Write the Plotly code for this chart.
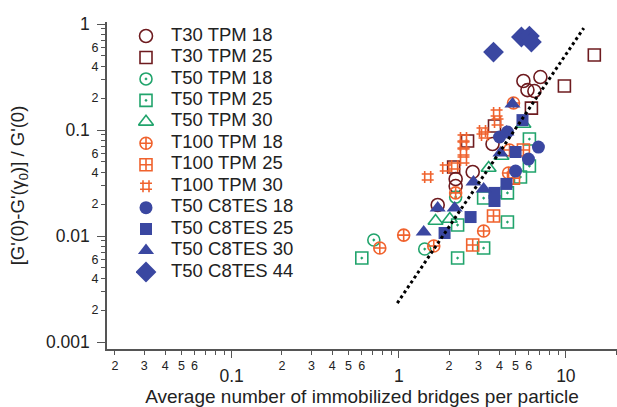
import plotly.graph_objects as go

# ---- data: (bridges per particle, relative modulus drop) ----
t30_tpm18_x = [5.57, 7.04, 5.89, 6.48, 3.64, 2.77, 2.19, 2.19, 1.71]
t30_tpm18_y = [0.29, 0.316, 0.238, 0.233, 0.0738, 0.0402, 0.0345, 0.0296, 0.0196]

t30_tpm25_x = [14.8, 9.8, 6.22, 3.74, 2.58, 2.13]
t30_tpm25_y = [0.51, 0.26, 0.161, 0.109, 0.0787, 0.0448]

t50_tpm18_x = [0.709, 1.43, 2.19]
t50_tpm18_y = [0.00917, 0.00754, 0.0233]

t50_tpm25_x = [0.601, 2.25, 3.22, 4.47, 2.25, 3.22, 4.47, 5.35, 6.05, 6.05]
t50_tpm25_y = [0.0062, 0.0062, 0.0077, 0.01355, 0.0127, 0.0228, 0.0255, 0.036, 0.0457, 0.0822]

t50_tpm30_x = [1.66, 2.02, 3.45, 4.12, 5.57]
t50_tpm30_y = [0.01386, 0.01445, 0.0438, 0.0569, 0.114]

t100_tpm18_x = [1.07, 0.77, 1.62, 3.22, 2.19, 4.54, 4.60, 4.86]
t100_tpm18_y = [0.0102, 0.0077, 0.00805, 0.01115, 0.0255, 0.0393, 0.0648, 0.18]

t100_tpm25_x = [3.69, 2.77, 5.57, 4.86]
t100_tpm25_y = [0.01545, 0.00822, 0.0648, 0.0352]

t100_tpm30_x = [1.49, 1.91, 2.16, 2.44, 2.44, 2.44, 2.44, 3.17, 3.26, 3.85, 3.90]
t100_tpm30_y = [0.036, 0.0438, 0.0457, 0.0521, 0.062, 0.0721, 0.0841, 0.098, 0.0897, 0.1446, 0.119]

t50_c8_18_x = [4.01, 4.47, 6.85, 5.97, 5.0]
t50_c8_18_y = [0.0859, 0.0958, 0.0691, 0.0532, 0.041]

t50_c8_25_x = [5.5, 5.0, 4.41, 3.74, 3.74, 2.69, 1.88]
t50_c8_25_y = [0.124, 0.062, 0.031, 0.0255, 0.0214, 0.0151, 0.01067]

t50_c8_30_x = [4.79, 4.41, 4.06, 2.80, 3.22, 1.71, 2.16, 1.41]
t50_c8_30_y = [0.176, 0.0958, 0.0607, 0.0323, 0.0277, 0.0184, 0.0184, 0.0109]

t50_c8_44_x = [3.69, 5.42, 6.05, 6.22]
t50_c8_44_y = [0.544, 0.754, 0.77, 0.676]

# guide line (power law) end points
guide_x = [0.98, 12.8]
guide_y = [0.00233, 0.916]

# axis ticks
x_decades = [0.1, 1, 10]
x_decade_text = ["0.1", "1", "10"]
x_minor = [m * d for d in (0.01, 0.1, 1, 10) for m in range(2, 10)]
x_minor_text = [str(m) if m <= 6 else " " for d in (0.01, 0.1, 1, 10) for m in range(2, 10)]
y_decades = [0.001, 0.01, 0.1, 1]
y_decade_text = ["0.001", "0.01", "0.1", "1"]
y_minor = [m * d for d in (0.001, 0.01, 0.1) for m in range(2, 10)]
y_minor_text = [str(m) if m in (2, 4, 6) else " " for d in (0.001, 0.01, 0.1) for m in range(2, 10)]

BROWN = "#6e1b1f"
GREEN = "#21a46c"
ORANGE = "#f0622d"
BLUE = "#3a47a1"
FONT = "Liberation Sans, Arial, sans-serif"

series = [
    ("T30 TPM 18", t30_tpm18_x, t30_tpm18_y, "circle-open", BROWN, 13),
    ("T30 TPM 25", t30_tpm25_x, t30_tpm25_y, "square-open", BROWN, 12),
    ("T50 TPM 18", t50_tpm18_x, t50_tpm18_y, "circle-open-dot", GREEN, 12),
    ("T50 TPM 25", t50_tpm25_x, t50_tpm25_y, "square-open-dot", GREEN, 12),
    ("T50 TPM 30", t50_tpm30_x, t50_tpm30_y, "triangle-up-open", GREEN, 13),
    ("T100 TPM 18", t100_tpm18_x, t100_tpm18_y, "circle-cross-open", ORANGE, 12),
    ("T100 TPM 25", t100_tpm25_x, t100_tpm25_y, "square-cross-open", ORANGE, 12),
    ("T100 TPM 30", t100_tpm30_x, t100_tpm30_y, "hash-open", ORANGE, 12),
    ("T50 C8TES 18", t50_c8_18_x, t50_c8_18_y, "circle", BLUE, 13),
    ("T50 C8TES 25", t50_c8_25_x, t50_c8_25_y, "square", BLUE, 12),
    ("T50 C8TES 30", t50_c8_30_x, t50_c8_30_y, "triangle-up", BLUE, 14),
    ("T50 C8TES 44", t50_c8_44_x, t50_c8_44_y, "diamond", BLUE, 16),
]
legend_names = [s[0] for s in series]


def marker_style(sym, col, size):
    filled = "open" not in sym
    return dict(symbol=sym, size=size, color=col,
                line=dict(color=col, width=0 if filled else 1.6))


fig = go.Figure()
for name, xs, ys, sym, col, size in series:
    fig.add_trace(go.Scatter(
        x=xs, y=ys, mode="markers", name=name, showlegend=False,
        marker=marker_style(sym, col, size),
    ))

fig.add_trace(go.Scatter(
    x=guide_x, y=guide_y, mode="lines", showlegend=False,
    line=dict(color="black", width=3, dash="dot"), hoverinfo="skip",
))

# carrier for the secondary (minor-label) axes
fig.add_trace(go.Scatter(x=[], y=[], xaxis="x2", yaxis="y2",
                         showlegend=False, hoverinfo="skip"))

# key: one row per series on a hidden categorical axis
for name, xs, ys, sym, col, size in series:
    fig.add_trace(go.Scatter(
        x=[0], y=[name], mode="markers", xaxis="x3", yaxis="y3",
        marker=marker_style(sym, col, size), showlegend=False, hoverinfo="skip",
    ))
fig.add_trace(go.Scatter(
    x=[1.25] * len(legend_names), y=legend_names, text=legend_names,
    mode="text", textposition="middle right", xaxis="x3", yaxis="y3",
    textfont=dict(size=18.5, family=FONT, color="#222222"),
    showlegend=False, hoverinfo="skip",
))

xr = [-1.746, 1.306]
yr = [-3.066, 0.019]
AX = "#555555"
hidden = dict(visible=False, showgrid=False, zeroline=False, fixedrange=True)

fig.update_layout(
    width=617, height=407,
    margin=dict(l=107, r=0, t=22, b=58),
    paper_bgcolor="white", plot_bgcolor="white",
    font=dict(family=FONT, color="#222222"),
    showlegend=False,
    xaxis=dict(type="log", range=xr, showgrid=False, zeroline=False,
               showline=True, linecolor=AX, linewidth=1.5,
               ticks="outside", ticklen=7, tickcolor=AX, tickwidth=1.3,
               tickvals=x_decades, ticktext=x_decade_text,
               tickfont=dict(size=17.5, color="#222222"), ticklabelstandoff=3,
               title=dict(text="Average number of immobilized bridges per particle",
                          font=dict(size=19, color="#222222"), standoff=6)),
    xaxis2=dict(type="log", range=xr, overlaying="x", anchor="y", side="bottom",
                showgrid=False, zeroline=False, showline=False,
                ticks="outside", ticklen=5, tickcolor=AX, tickwidth=1.2,
                tickvals=x_minor, ticktext=x_minor_text,
                tickfont=dict(size=12.5, color="#222222")),
    yaxis=dict(type="log", range=yr, showgrid=False, zeroline=False,
               showline=True, linecolor=AX, linewidth=1.5,
               ticks="outside", ticklen=8, tickcolor=AX, tickwidth=1.3,
               tickvals=y_decades, ticktext=y_decade_text,
               tickfont=dict(size=17.5, color="#222222"), ticklabelstandoff=4,
               title=dict(text="[G'(0)-G'(γ<sub>0</sub>)] / G'(0)",
                          font=dict(size=18.5, color="#222222"), standoff=16)),
    yaxis2=dict(type="log", range=yr, overlaying="y", anchor="x", side="left",
                showgrid=False, zeroline=False, showline=False,
                ticks="outside", ticklen=5, tickcolor=AX, tickwidth=1.2,
                tickvals=y_minor, ticktext=y_minor_text,
                tickfont=dict(size=12.5, color="#222222")),
    # key area: 20 px per x unit, 21.45 px per row
    xaxis3=dict(hidden, range=[-0.5, 9.5], domain=[(136 - 107) / 510, (336 - 107) / 510],
                anchor="y3"),
    yaxis3=dict(hidden, type="category", categoryorder="array",
                categoryarray=legend_names, range=[11.5, -0.5],
                domain=[(349 - 282.7) / 327, (349 - 25.3) / 327], anchor="x3"),
)

fig.write_html("out.html")
